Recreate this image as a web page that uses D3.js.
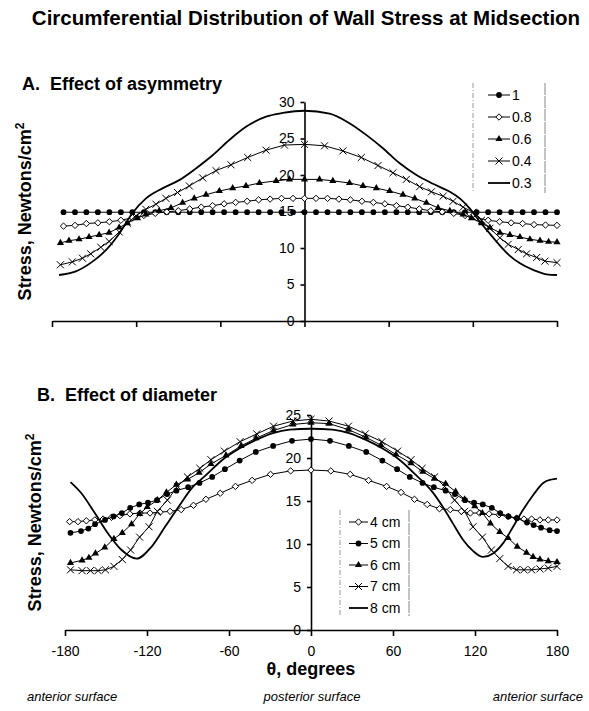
<!DOCTYPE html>
<html>
<head>
<meta charset="utf-8">
<script src="https://cdn.jsdelivr.net/npm/d3@7"></script>
<style>
  body { margin: 0; background: #fff; }
  svg { display: block; font-family: "Liberation Sans", Arial, sans-serif; }
</style>
</head>
<body>
<div id="chart"></div>
<script>
// ---- data ----
const ticksX = [-180, -120, -60, 0, 60, 120, 180];
const ticksYA = [0, 5, 10, 15, 20, 25, 30];
const ticksYB = [0, 5, 10, 15, 20, 25];
const legendA = ["1", "0.8", "0.6", "0.4", "0.3"];
const legendB = ["4 cm", "5 cm", "6 cm", "7 cm", "8 cm"];
const surfaceLabels = ["anterior surface", "posterior surface", "anterior surface"];

// panel A: effect of asymmetry
const thetaA1 = [-171.8, -163.6, -155.5, -147.3, -139.1, -130.9, -122.7, -114.5, -106.4, -98.2, -90, -81.8, -73.6, -65.5, -57.3, -49.1, -40.9, -32.7, -24.5, -16.4, -8.2, 0,
  8.2, 16.4, 24.5, 32.7, 40.9, 49.1, 57.3, 65.5, 73.6, 81.8, 90, 98.2, 106.4, 114.5, 122.7, 130.9, 139.1, 147.3, 155.5, 163.6, 171.8, 180];
const stressA10 = [14.9, 14.9, 14.9, 14.9, 14.9, 14.9, 14.9, 14.9, 14.9, 14.9, 14.9, 14.9, 14.9, 14.9, 14.9, 14.9, 14.9, 14.9, 14.9, 14.9, 14.9, 14.9,
  14.9, 14.9, 14.9, 14.9, 14.9, 14.9, 14.9, 14.9, 14.9, 14.9, 14.9, 14.9, 14.9, 14.9, 14.9, 14.9, 14.9, 14.9, 14.9, 14.9, 14.9, 14.9];
const stressA08 = [13.0, 13.1, 13.35, 13.45, 13.6, 13.8, 14.15, 14.45, 14.75, 14.95, 15.1, 15.35, 15.6, 15.8, 16.05, 16.25, 16.4, 16.6, 16.7, 16.8, 16.8, 16.8,
  16.8, 16.8, 16.7, 16.6, 16.4, 16.25, 16.05, 15.8, 15.6, 15.35, 15.1, 14.95, 14.75, 14.45, 14.15, 13.8, 13.6, 13.45, 13.35, 13.2, 13.15, 13.1];

const thetaA06 = [-174, -167.9, -160.7, -153.6, -146.4, -139.3, -132.1, -126.2, -119, -113.1, -103.6, -95.2, -86.9, -78.6, -70.2, -60.7, -51.2, -41.7, -32.1, -20.2, -10.7, 0,
  10.7, 20.2, 32.1, 41.7, 51.2, 60.7, 70.2, 78.6, 86.9, 95.2, 103.6, 113.1, 119, 126.2, 132.1, 139.3, 146.4, 153.6, 160.7, 167.9, 174, 180];
const stressA06 = [10.7, 11.0, 11.2, 11.5, 11.8, 12.1, 12.8, 13.4, 14.1, 14.6, 15.1, 15.5, 16.2, 16.8, 17.3, 17.8, 18.2, 18.5, 18.9, 19.2, 19.4, 19.4,
  19.4, 19.2, 18.9, 18.5, 18.2, 17.8, 17.3, 16.8, 16.2, 15.5, 15.1, 14.6, 14.1, 13.4, 12.8, 12.1, 11.8, 11.5, 11.2, 11.0, 10.85, 10.8];

const thetaA04 = [-174, -165.5, -158.3, -152.4, -145.2, -139.3, -132.1, -126.2, -120.2, -113.1, -105.9, -98.8, -90.5, -82.1, -72.6, -63.1, -52.4, -40.5, -27.4, -14.3, 0,
  14.3, 27.4, 40.5, 52.4, 63.1, 72.6, 82.1, 90.5, 98.8, 105.9, 113.1, 120.2, 126.2, 132.1, 139.3, 145.2, 152.4, 158.3, 165.5, 171.4, 180];
const stressA04 = [7.7, 8.1, 8.6, 9.2, 10.1, 10.9, 12.2, 13.4, 14.4, 15.3, 16.0, 16.8, 17.6, 18.5, 19.6, 20.6, 21.4, 22.4, 23.4, 24.1, 24.2,
  24.0, 23.3, 22.4, 21.3, 20.3, 19.4, 18.4, 17.7, 17.1, 16.4, 15.6, 14.9, 13.8, 12.7, 11.4, 10.5, 9.8, 9.2, 8.7, 8.2, 8.0];

const thetaA03 = [-175, -163, -151.4, -141.6, -132, -122.6, -113, -101, -89.3, -77.4, -65.5, -53.6, -41.7, -27.4, -15.5, 0,
  17.9, 32, 44, 55.7, 67.9, 79.8, 91.6, 103.6, 110.7, 117.9, 125, 132, 139, 146, 153.6, 163, 172.6, 180];
const stressA03 = [6.3, 6.8, 8.1, 9.7, 12.0, 14.8, 16.8, 18.2, 19.3, 20.9, 22.7, 24.8, 26.6, 28.0, 28.5, 28.8,
  28.4, 27.1, 25.5, 23.7, 21.6, 20.0, 18.8, 17.7, 16.8, 15.4, 13.6, 12.0, 10.4, 9.0, 7.9, 7.0, 6.4, 6.3];

// panel B: effect of diameter
const thetaB4 = [-176.6, -170.5, -164.4, -158.2, -152.1, -146, -139.8, -132.5, -125.1, -117.8, -110.4, -103.1, -95, -86, -76.9, -66.4, -55.3, -43.1, -29.6, -14.9, 0,
  14.5, 28.7, 42.1, 55.3, 65.9, 75.7, 85, 94, 101.9, 110, 116.6, 123.4, 130.3, 137.6, 144.2, 150.4, 155.8, 161.4, 167.5, 173.6, 180];
const stressB4 = [12.6, 12.6, 12.7, 12.8, 12.9, 13.1, 13.3, 13.5, 13.6, 13.6, 13.7, 13.8, 14.0, 14.5, 15.2, 15.9, 16.7, 17.4, 18.1, 18.5, 18.6,
  18.5, 18.1, 17.4, 16.7, 16.0, 15.2, 14.6, 14.1, 14.0, 13.8, 13.6, 13.6, 13.5, 13.4, 13.2, 13.0, 12.9, 12.9, 12.8, 12.8, 12.8];

const thetaB5 = [-176, -168.3, -162.9, -158, -150.7, -144.5, -138.4, -132.3, -125.7, -119.3, -112.7, -105.3, -98.5, -89.9, -81.6, -72.3, -63, -52.2, -40.4, -27.7, -13.9, 0,
  13.9, 27.7, 40.4, 52.2, 63, 72.3, 81.6, 89.9, 98.5, 105.3, 112.7, 119.3, 125.7, 132.3, 138.4, 144.5, 150.7, 158, 162.9, 168.3, 174.6, 180];
const stressB5 = [11.3, 11.5, 11.8, 12.3, 12.8, 13.2, 13.6, 14.2, 14.6, 14.8, 15.1, 15.8, 16.2, 16.6, 17.1, 17.8, 18.7, 19.7, 20.7, 21.4, 22.0, 22.2,
  22.0, 21.4, 20.7, 19.7, 18.7, 17.8, 17.1, 16.6, 16.2, 15.8, 15.1, 14.8, 14.6, 14.2, 13.6, 13.2, 13.0, 12.5, 12.2, 11.9, 11.6, 11.5];

const thetaB6 = [-176, -167.5, -162.5, -157.7, -150.9, -144.2, -138.1, -131.3, -125.4, -119.8, -112.4, -105.8, -98.5, -90.4, -81.8, -73.2, -62.2, -51.2, -40.2, -27.4, -13.2, 0,
  13.2, 27.4, 40.2, 51.2, 62.2, 73.2, 81.8, 90.4, 98.5, 105.8, 112.4, 119.8, 125.4, 131.3, 138.1, 144.2, 150.9, 157.7, 162.5, 167.5, 173.6, 180];
const stressB6 = [7.8, 8.1, 8.4, 8.9, 9.6, 10.6, 11.3, 12.3, 13.5, 14.3, 15.1, 16.0, 16.9, 17.5, 18.3, 19.3, 20.3, 21.4, 22.3, 23.2, 23.9, 24.1,
  24.0, 23.3, 22.4, 21.5, 20.4, 19.4, 18.4, 17.6, 17.0, 16.1, 15.2, 14.4, 13.6, 12.4, 11.4, 10.7, 9.7, 9.0, 8.5, 8.2, 8.0, 7.9];

const thetaB7 = [-176, -167.5, -161.4, -155.8, -150.4, -144.2, -138.1, -132, -125.4, -118.5, -112.4, -105.1, -97.7, -90.4, -81.3, -73.2, -63.4, -51.9, -39.7, -27.4, -13.2, 0,
  13.2, 27.4, 39.7, 51.9, 63.4, 73.2, 81.3, 90.4, 97.7, 105.1, 112.4, 118.5, 125.4, 132, 138.1, 144.2, 150.4, 155.8, 161.4, 167.5, 173.6, 180];
const stressB7 = [7.0, 6.9, 6.9, 6.9, 7.0, 7.4, 8.2, 9.3, 10.8, 12.0, 13.8, 15.1, 16.7, 17.8, 18.8, 19.8, 20.8, 21.9, 22.8, 23.7, 24.3, 24.5,
  24.3, 23.7, 22.8, 21.9, 20.8, 19.8, 18.8, 17.8, 16.7, 15.1, 13.8, 12.0, 10.8, 9.3, 8.3, 7.4, 7.0, 7.0, 7.0, 7.1, 7.2, 7.4];

const thetaB8 = [-176, -168, -158.2, -148.4, -138.6, -127.6, -116.6, -106.8, -97, -87.2, -76.9, -64.7, -52.4, -40.2, -27.9, -15.7, 0,
  15.7, 27.9, 40.2, 52.4, 64.7, 76.9, 89.1, 96.5, 103.8, 111.2, 118.5, 125.9, 133.2, 140.6, 147.9, 155.3, 162.6, 169.9, 176.1, 180];
const stressB8 = [17.2, 15.9, 13.6, 11.2, 9.3, 8.3, 9.7, 12.0, 14.3, 16.5, 18.0, 19.8, 21.1, 22.1, 22.9, 23.3, 23.4,
  23.3, 22.9, 22.1, 21.1, 19.8, 18.0, 16.0, 14.3, 12.4, 10.5, 9.2, 8.5, 8.9, 10.1, 12.0, 14.0, 15.7, 17.1, 17.5, 17.6];

// ---- layout ----
const width = 589;
const height = 711;
const font = "'Liberation Sans', Arial, sans-serif";

const svg = d3
  .select("#chart")
  .append("svg")
  .attr("width", width)
  .attr("height", height);
svg.append("rect").attr("width", width).attr("height", height).attr("fill", "#fff");

svg
  .append("text")
  .attr("x", 306)
  .attr("y", 25)
  .attr("text-anchor", "middle")
  .attr("font-size", 20.5)
  .attr("font-weight", "bold")
  .text("Circumferential Distribution of Wall Stress at Midsection");

const diamondType = d3.symbolDiamond2 || d3.symbolDiamond;
const timesType = d3.symbolTimes || d3.symbolX || d3.symbolCross;
const markers = {
  circle: { path: d3.symbol().type(d3.symbolCircle).size(26)(), fill: "#000", stroke: "none" },
  diamond: { path: d3.symbol().type(diamondType).size(26)(), fill: "#fff", stroke: "#000" },
  triangle: { path: d3.symbol().type(d3.symbolTriangle).size(22)(), fill: "#000", stroke: "none" },
  times: { path: d3.symbol().type(timesType).size(34)(), fill: "none", stroke: "#000" },
};

function drawPanel(p) {
  const x = d3.scaleLinear().domain([-180, 180]).range(p.xRange);
  const y = d3.scaleLinear().domain([0, p.yMax]).range(p.yRange);
  const g = svg.append("g");

  // x axis
  const xAxis = g
    .append("g")
    .attr("transform", `translate(0, ${p.yRange[0]})`)
    .call(
      d3.axisBottom(x)
        .tickValues(ticksX)
        .tickSize(6)
        .tickSizeOuter(0)
        .tickPadding(10)
        .tickFormat(p.xLabels ? (d) => String(d) : "")
    );
  xAxis.attr("font-family", font).attr("font-size", 14);
  xAxis.selectAll("path, line").attr("stroke", "#000").attr("stroke-width", 1.6);
  xAxis.selectAll("text").attr("fill", "#000");

  // y axis through theta = 0
  const yAxis = g
    .append("g")
    .attr("transform", `translate(${x(0)}, 0)`)
    .call(d3.axisLeft(y).tickValues(p.yTicks).tickSize(4).tickSizeOuter(0).tickPadding(6));
  yAxis.attr("font-family", font).attr("font-size", 14);
  yAxis.selectAll("path, line").attr("stroke", "#000").attr("stroke-width", 1.6);
  yAxis.selectAll("text").attr("fill", "#000");

  // series
  p.series.forEach((s) => {
    const pts = s.theta.map((t, i) => [t, s.stress[i]]);
    const line = d3
      .line()
      .x((d) => x(d[0]))
      .y((d) => y(d[1]))
      .curve(s.marker ? d3.curveLinear : d3.curveMonotoneX);
    g.append("path")
      .datum(pts)
      .attr("fill", "none")
      .attr("stroke", "#000")
      .attr("stroke-width", s.marker ? 1 : 1.8)
      .attr("d", line);
    if (s.marker) {
      const m = markers[s.marker];
      g.append("g")
        .selectAll("path")
        .data(pts)
        .join("path")
        .attr("transform", (d) => `translate(${x(d[0])}, ${y(d[1])})`)
        .attr("d", m.path)
        .attr("fill", m.fill)
        .attr("stroke", m.stroke)
        .attr("stroke-width", 1);
    }
  });

  // panel heading
  svg
    .append("text")
    .attr("x", p.headX)
    .attr("y", p.headY)
    .attr("font-size", 18)
    .attr("font-weight", "bold")
    .attr("xml:space", "preserve")
    .text(p.heading);

  // y axis title
  const yt = svg
    .append("text")
    .attr("transform", `translate(${p.yTitleX}, ${(p.yRange[0] + p.yRange[1]) / 2}) rotate(-90)`)
    .attr("text-anchor", "middle")
    .attr("font-size", 18)
    .attr("font-weight", "bold");
  yt.append("tspan").text("Stress, Newtons/cm");
  yt.append("tspan").attr("dy", -7).attr("font-size", 12).text("2");

  // legend
  const lg = svg.append("g");
  const L = p.legend;
  lg.append("line")
    .attr("x1", L.x0).attr("x2", L.x0).attr("y1", L.top).attr("y2", L.bottom)
    .attr("stroke", "#999").attr("stroke-dasharray", "5,2,1,2");
  lg.append("line")
    .attr("x1", L.x1).attr("x2", L.x1).attr("y1", L.top).attr("y2", L.bottom)
    .attr("stroke", "#888").attr("stroke-dasharray", "12,1");
  p.series.forEach((s, i) => {
    const yy = L.first + i * L.step;
    lg.append("line")
      .attr("x1", L.sx0).attr("x2", L.sx1).attr("y1", yy).attr("y2", yy)
      .attr("stroke", "#000").attr("stroke-width", s.marker ? 1 : 1.8);
    if (s.marker) {
      const m = markers[s.marker];
      lg.append("path")
        .attr("transform", `translate(${(L.sx0 + L.sx1) / 2}, ${yy})`)
        .attr("d", m.path)
        .attr("fill", m.fill)
        .attr("stroke", m.stroke);
    }
    lg.append("text")
      .attr("x", L.sx1 + 2)
      .attr("y", yy)
      .attr("dy", "0.35em")
      .attr("font-size", 14)
      .text(s.name);
  });
}

drawPanel({
  heading: "A.  Effect of asymmetry",
  headX: 22,
  headY: 90,
  xRange: [52, 557],
  yRange: [321, 102],
  yMax: 30,
  yTicks: ticksYA,
  xLabels: false,
  yTitleX: 31,
  legend: { x0: 473, x1: 545, top: 83, bottom: 193, first: 95, step: 22, sx0: 488, sx1: 510 },
  series: [
    { name: legendA[0], theta: thetaA1, stress: stressA10, marker: "circle" },
    { name: legendA[1], theta: thetaA1, stress: stressA08, marker: "diamond" },
    { name: legendA[2], theta: thetaA06, stress: stressA06, marker: "triangle" },
    { name: legendA[3], theta: thetaA04, stress: stressA04, marker: "times" },
    { name: legendA[4], theta: thetaA03, stress: stressA03, marker: null },
  ],
});

drawPanel({
  heading: "B.  Effect of diameter",
  headX: 37,
  headY: 401,
  xRange: [65, 557],
  yRange: [630, 415],
  yMax: 25,
  yTicks: ticksYB,
  xLabels: true,
  yTitleX: 41,
  legend: { x0: 340, x1: 409, top: 510, bottom: 616, first: 522, step: 21.5, sx0: 349, sx1: 368 },
  series: [
    { name: legendB[0], theta: thetaB4, stress: stressB4, marker: "diamond" },
    { name: legendB[1], theta: thetaB5, stress: stressB5, marker: "circle" },
    { name: legendB[2], theta: thetaB6, stress: stressB6, marker: "triangle" },
    { name: legendB[3], theta: thetaB7, stress: stressB7, marker: "times" },
    { name: legendB[4], theta: thetaB8, stress: stressB8, marker: null },
  ],
});

// x axis title and surface notes
svg
  .append("text")
  .attr("x", 311)
  .attr("y", 675)
  .attr("text-anchor", "middle")
  .attr("font-size", 18)
  .attr("font-weight", "bold")
  .text("θ, degrees");

svg
  .selectAll("text.surface")
  .data(surfaceLabels)
  .join("text")
  .attr("class", "surface")
  .attr("x", (d, i) => [27, 312, 583][i])
  .attr("y", 701)
  .attr("text-anchor", (d, i) => ["start", "middle", "end"][i])
  .attr("font-size", 13)
  .attr("font-style", "italic")
  .text((d) => d);
</script>
</body>
</html>
